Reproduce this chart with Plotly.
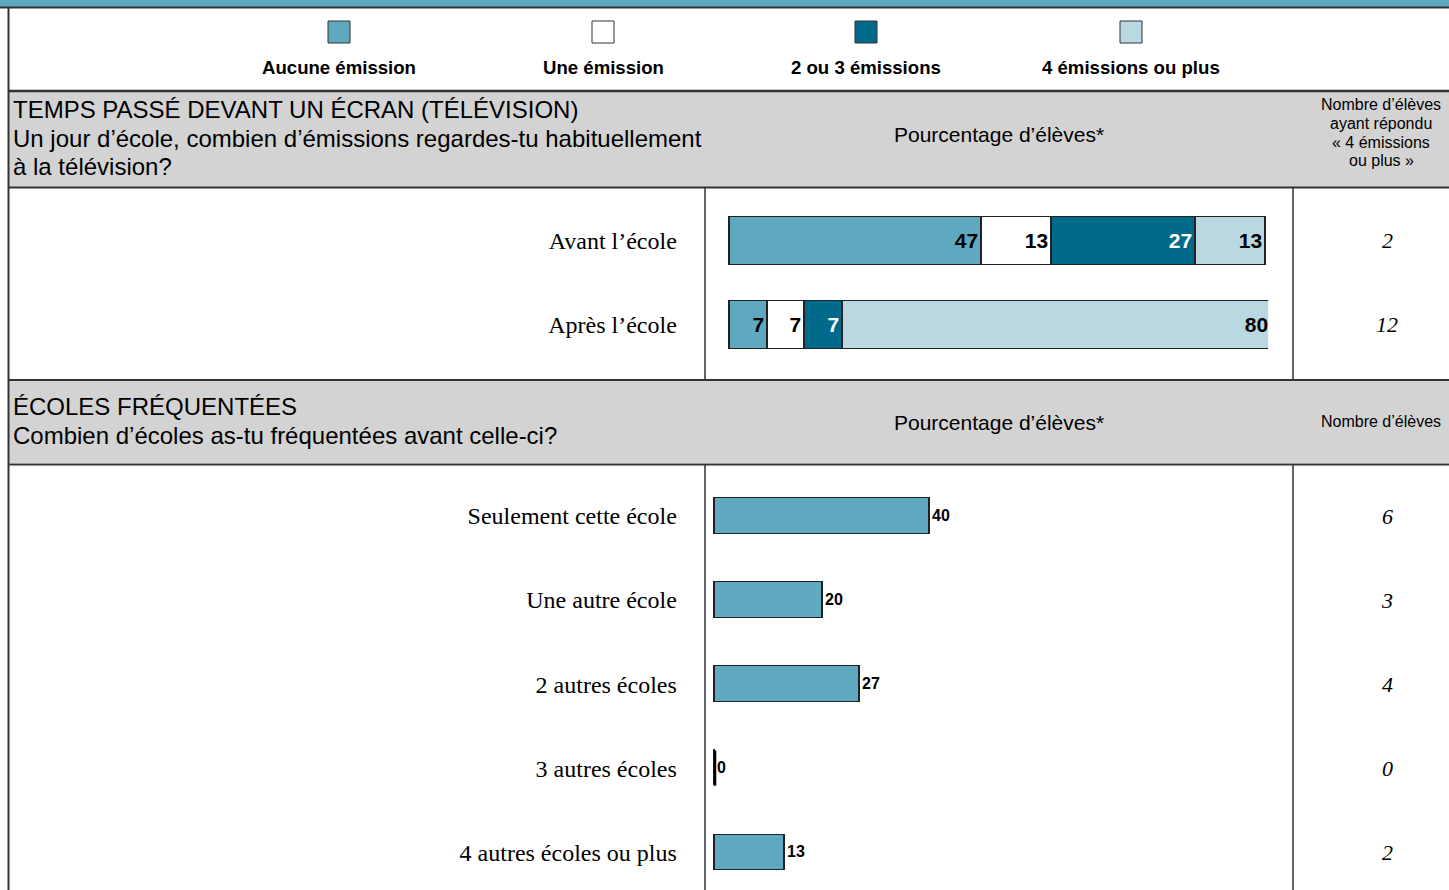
import plotly.graph_objects as go

W, H = 1449, 890

# --- data -------------------------------------------------------------
series_names = ["Aucune émission", "Une émission", "2 ou 3 émissions", "4 émissions ou plus"]
series_colors = ["#5fa9c0", "#ffffff", "#006a8a", "#b9d8e2"]
series_text_colors = ["black", "black", "white", "black"]

tv_labels = ["Avant l’école", "Après l’école"]
tv_aucune = [47, 7]
tv_une = [13, 7]
tv_deux_trois = [27, 7]
tv_quatre_plus = [13, 80]
tv_counts = ["2", "12"]

school_labels = [
    "Seulement cette école",
    "Une autre école",
    "2 autres écoles",
    "3 autres écoles",
    "4 autres écoles ou plus",
]
school_values = [40, 20, 27, 0, 13]
school_counts = ["6", "3", "4", "0", "2"]

tv_title = ["TEMPS PASSÉ DEVANT UN ÉCRAN (TÉLÉVISION)",
            "Un jour d’école, combien d’émissions regardes-tu habituellement",
            "à la télévision?"]
tv_count_title = ["Nombre d’élèves", "ayant répondu", "« 4 émissions", "ou plus »"]
school_title = ["ÉCOLES FRÉQUENTÉES", "Combien d’écoles as-tu fréquentées avant celle-ci?"]

tv_series = [tv_aucune, tv_une, tv_deux_trois, tv_quatre_plus]

SANS = "Liberation Sans, Arial, sans-serif"
SERIF = "Liberation Serif, Times New Roman, serif"
EDGE = "#222222"
GRAY = "#d3d3d3"
PAD = 0.4  # a little room so the bar outlines at 0 and 100 are not clipped


def px(x):
    return x / W


def py(y):
    return 1 - y / H


fig = go.Figure()

# section 1 : stacked bars
for name, vals, col, tcol in zip(series_names, tv_series, series_colors, series_text_colors):
    fig.add_trace(
        go.Bar(
            name=name,
            y=tv_labels,
            x=vals,
            orientation="h",
            width=0.56,
            marker=dict(color=col, line=dict(color=EDGE, width=1.5)),
            texttemplate="<b>%{x}</b>",
            textposition="inside",
            insidetextanchor="end",
            constraintext="none",
            textfont=dict(family=SANS, size=21, color=tcol),
            xaxis="x",
            yaxis="y",
            showlegend=False,
        )
    )

# section 2 : simple bars
fig.add_trace(
    go.Bar(
        y=school_labels,
        x=school_values,
        orientation="h",
        width=0.42,
        marker=dict(color=series_colors[0], line=dict(color=EDGE, width=1.5)),
        texttemplate="<b>%{x}</b>",
        textposition="outside",
        cliponaxis=False,
        textfont=dict(family=SANS, size=16, color="black"),
        xaxis="x2",
        yaxis="y2",
        showlegend=False,
    )
)

shapes = []
annotations = []


def hline(y, x0=0, x1=W, w=2):
    shapes.append(dict(type="line", xref="paper", yref="paper", x0=px(x0), x1=px(x1),
                       y0=py(y), y1=py(y), line=dict(color="#333333", width=w)))


def vline(x, y0, y1, w=1.5):
    shapes.append(dict(type="line", xref="paper", yref="paper", x0=px(x), x1=px(x),
                       y0=py(y0), y1=py(y1), line=dict(color="#333333", width=w)))


def rect(x0, y0, x1, y1, fill, line=None):
    shapes.append(dict(type="rect", xref="paper", yref="paper", layer="below",
                       x0=px(x0), x1=px(x1), y0=py(y1), y1=py(y0), fillcolor=fill,
                       line=line or dict(width=0)))


def text(x, y, s, size, anchor="center", family=SANS):
    annotations.append(dict(xref="paper", yref="paper", x=px(x), y=py(y), text=s, showarrow=False,
                            xanchor=anchor, yanchor="middle", align=anchor if anchor != "center" else "center",
                            font=dict(family=family, size=size, color="black")))


# top band and frame
rect(0, 0, W, 7, "#5fa9c0")
hline(7.5)
vline(8.5, 7, H, w=2)
hline(91, x0=8, w=2.5)
rect(9, 92, W, 187, GRAY)
hline(187.5, x0=8)
vline(705, 188, 380)
vline(1293, 188, 380)
hline(380, x0=8)
rect(9, 381, W, 463, GRAY)
hline(464.5, x0=8)
vline(705, 465, H)
vline(1293, 465, H)

# legend
legend_x = [339, 603, 866, 1131]
for name, col, cx in zip(series_names, series_colors, legend_x):
    shapes.append(dict(type="rect", xref="paper", yref="paper", x0=px(cx - 11), x1=px(cx + 11),
                       y0=py(43), y1=py(21), fillcolor=col, line=dict(color="#333333", width=1)))
    text(cx, 68, "<b>" + name + "</b>", 18.6)

# headers
for line, y in zip(tv_title, [110, 138, 166]):
    text(11, y, line, 24, anchor="left")
text(999, 134, "Pourcentage d’élèves*", 21)
for line, y in zip(tv_count_title, [105, 124, 142, 160]):
    text(1381, y, line, 16)

for line, y in zip(school_title, [406, 435]):
    text(11, y, line, 24, anchor="left")
text(999, 422, "Pourcentage d’élèves*", 21)
text(1381, 421, tv_count_title[0], 16)

# counts column
for lab, c in zip(tv_labels, tv_counts):
    annotations.append(dict(xref="paper", yref="y", x=px(1387), y=lab, text="<i>" + c + "</i>",
                            showarrow=False, xanchor="center", yanchor="middle",
                            font=dict(family=SERIF, size=22, color="black")))
for lab, c in zip(school_labels, school_counts):
    annotations.append(dict(xref="paper", yref="y2", x=px(1387), y=lab, text="<i>" + c + "</i>",
                            showarrow=False, xanchor="center", yanchor="middle",
                            font=dict(family=SERIF, size=22, color="black")))

# zero-valued bars drawn as a thin edge
for i, v in enumerate(school_values):
    if v == 0:
        shapes.append(dict(type="line", xref="x2", yref="y2", x0=v, x1=v, y0=i - 0.21, y1=i + 0.21,
                           line=dict(color="black", width=2.5)))

axis_off = dict(showgrid=False, zeroline=False, showticklabels=False, showline=False, fixedrange=True)
s1 = (1266 - 730) / 100
s2 = 215 / 40

fig.update_layout(
    width=W,
    height=H,
    margin=dict(l=0, r=0, t=0, b=0),
    paper_bgcolor="white",
    plot_bgcolor="rgba(0,0,0,0)",
    barmode="stack",
    bargap=0,
    font=dict(family=SANS, color="black"),
    xaxis=dict(domain=[px(730 - PAD * s1), px(1266 + PAD * s1)], range=[-PAD, 100 + PAD], **axis_off),
    yaxis=dict(domain=[py(367), py(199)], type="category", range=[1.5, -0.5], showgrid=False,
               zeroline=False, showline=False, ticks="", ticklabelstandoff=50,
               tickfont=dict(family=SERIF, size=24, color="black")),
    xaxis2=dict(domain=[px(715 - PAD * s2), px(715 + 100 * s2)], range=[-PAD, 100], anchor="y2", **axis_off),
    yaxis2=dict(domain=[0, py(474)], type="category", range=[4.45, -0.5], anchor="x2", showgrid=False,
                zeroline=False, showline=False, ticks="", ticklabelstandoff=35,
                tickfont=dict(family=SERIF, size=24, color="black")),
    shapes=shapes,
    annotations=annotations,
)

fig.write_html("out.html", config={"displayModeBar": False},
               post_script="document.body.style.margin='0';")
